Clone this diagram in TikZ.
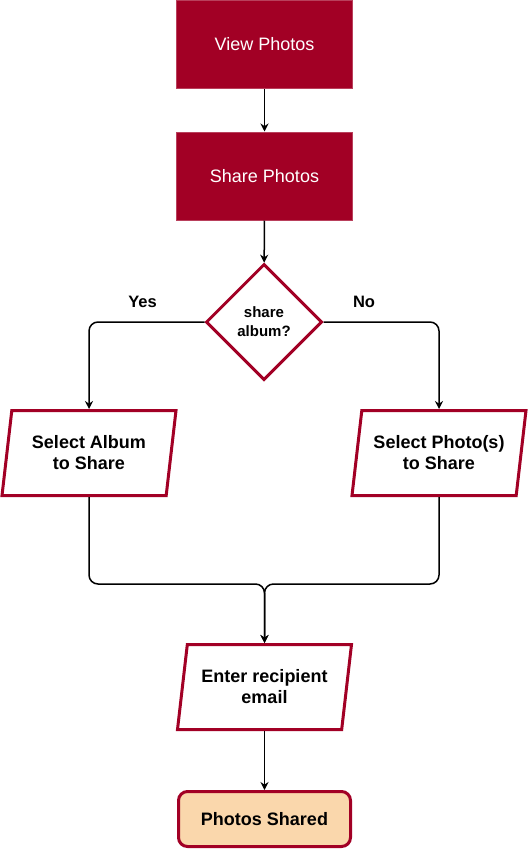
\documentclass[tikz,border=0pt]{standalone}
\usepackage{fontspec}
\setmainfont{Liberation Sans}
\usepackage{tikz}
\usetikzlibrary{shapes,arrows,positioning}
\usetikzlibrary{shapes.geometric,arrows.meta}
\definecolor{crimson}{HTML}{A20025}
\definecolor{peach}{HTML}{FAD7AC}

\begin{document}
\begin{tikzpicture}[x=1pt, y=-1pt, >={Stealth[length=8pt,width=8pt]},
		filled/.style={rectangle, fill=crimson, draw=crimson!75!white, line width=1pt, text=white,
			minimum width=176pt, minimum height=88pt, font=\fontsize{18}{21}\selectfont},
		inputbox/.style={trapezium, trapezium left angle=76.5, trapezium right angle=103.5,
			trapezium stretches body, draw=crimson, line width=3pt, fill=white,
			minimum width=174pt, minimum height=85pt, align=center,
			font=\fontsize{18}{21}\selectfont\bfseries},
		question/.style={diamond, draw=crimson, line width=3pt, fill=white, minimum size=116pt,
			inner sep=0pt, align=center, font=\fontsize{15}{19}\selectfont\bfseries},
		finish/.style={rectangle, rounded corners=9pt, draw=crimson, line width=3pt, fill=peach,
			minimum width=172pt, minimum height=55pt, font=\fontsize{18}{21}\selectfont\bfseries},
		answer/.style={font=\fontsize{16.5}{20}\selectfont\bfseries},
		flow/.style={->, line width=1.5pt, rounded corners=9pt}]
				\useasboundingbox (0,0) rectangle (529,851);
				% boxes
				\node [filled] (view) at (264.5,44.5) {View Photos};
				\node [filled] (share) at (264.5,176) {Share Photos};
				\node [question] (ask) at (264,322) {share\\album?};
				\node [inputbox] (albumsel) at (89,453) {Select Album\\to Share};
				\node [inputbox] (photosel) at (439,453) {Select Photo(s)\\to Share};
				\node [inputbox] (enter) at (264.5,687) {Enter recipient\\email};
				\node [finish] (done) at (264.5,819) {Photos Shared};
				\node [answer] (yes) at (142.5,302) {Yes};
				\node [answer] (no) at (364,302) {No};
				\coordinate (merge) at (264.5,584);
				% connectors
				\draw [flow] (view) -- (share);
				\draw [flow] (share) -- (ask);
				\draw [flow] (ask.west) -| (albumsel.north);
				\draw [flow] (ask.east) -| (photosel.north);
				\draw [flow] (albumsel.south) |- (merge) -- (enter.north);
				\draw [flow] (photosel.south) |- (merge) -- (enter.north);
				\draw [flow] (enter) -- (done);
\end{tikzpicture}
\end{document}
